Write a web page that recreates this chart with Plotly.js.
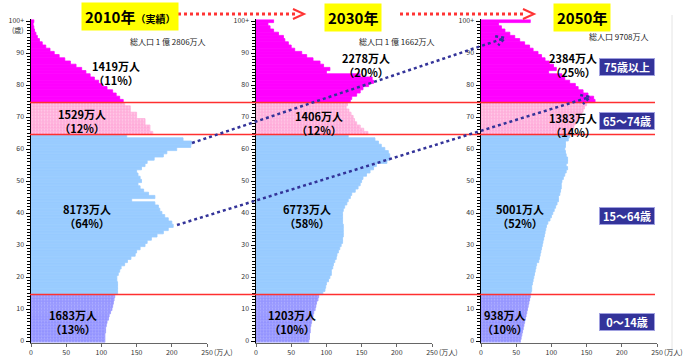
<!DOCTYPE html>
<html><head><meta charset="utf-8">
<script src="https://cdn.plot.ly/plotly-3.0.1.min.js"></script>
<style>html,body{margin:0;padding:0;background:#fff;}#chart{width:683px;height:356px;}</style>
</head><body><div id="chart"></div>
<script>
// ---------------- data ----------------
const ages = [0,1,2,3,4,5,6,7,8,9,10,11,12,13,14,15,16,17,18,19,20,21,22,23,24,25,26,27,28,29,30,31,32,33,34,35,36,37,38,39,40,41,42,43,44,45,46,47,48,49,50,51,52,53,54,55,56,57,58,59,60,61,62,63,64,65,66,67,68,69,70,71,72,73,74,75,76,77,78,79,80,81,82,83,84,85,86,87,88,89,90,91,92,93,94,95,96,97,98,99,100];

// population by single age (万人)
const pop2010 = [105,105,105,106,106,107,108,110,111,113,115,116,117,118,119,
  123,123,123,123,122, 122,124,126,128,133, 137,142,148,150,155, 162,165,171,179,188,
  195,202,200,195,190, 186,183,181,176,143, 176,167,160,155,152, 157,155,152,150,157,
  162,165,175,188,193, 207,227,228,216,136,
  173,169,169,162,162,150,150,141,141,133,
  131,126,121,116,108,101,96,90,84,78,72,64,56,48,40,33,27,21,16,12,9,7,5,4,3,4];
const pop2030 = [75,76,76,77,77,78,79,80,81,82,84,85,86,88,89,
  95,98,99,100,103, 105,107,107,109,110, 112,114,115,117,119, 121,123,123,124,124,
  124,124,123,123,123, 123,124,126,129,131, 134,136,141,145,148, 150,152,157,162,167,
  171,186,190,190,188, 183,178,174,169,131,
  159,153,148,143,140,138,135,132,128,130,
  134,136,143,148,152,160,167,165,148,100,105,96,91,81,72,65,55,50,46,41,39,32,25,20,17,25];
const pop2050 = [56,57,58,59,60,61,62,63,64,65,66,67,68,69,70,
  71,72,72,73,74, 75,76,77,78,79, 82,83,84,85,86, 87,88,89,90,91,
  92,93,95,98,100, 102,104,106,108,110, 110,112,113,114,114, 115,117,119,121,123,
  121,123,123,121,120, 119,120,120,124,126,
  128,130,132,134,137,140,143,145,147,150,
  162,160,152,145,138,134,126,119,115,96,107,103,97,91,86,81,74,69,62,55,48,41,34,29,25,70];

const years = ['2010年','2030年','2050年'];
const yearNotes = ['（実績）','',''];
const totalPop = ['総人口 1 億 2806万人','総人口 1 億 1662万人','総人口 9708万人'];
const groupNames = ['0〜14歳','15〜64歳','65〜74歳','75歳以上'];
const groupLo = [0,15,65,75];
const groupHi = [14,64,74,100];
const groupTotals = [[1683,8173,1529,1419],[1203,6773,1406,2278],[938,5001,1383,2384]];
const groupShares = [[13,64,12,11],[10,58,12,20],[10,52,14,25]];
const yTickVals = [0,10,20,30,40,50,60,70,80,90,100];
const yTickText = ['0','10','20','30','40','50','60','70','80','90','100+'];
const xTickVals = [0,50,100,150,200,250];
const xUnit = '(万人)';
const yUnit = '(歳)';

// ---------------- styling ----------------
const W = 683, H = 356;
const px = x => x / W, py = y => 1 - y / H;
const JP = '"Noto Sans CJK JP", "Noto Sans", sans-serif';
const groupColors = ['#9A9AFF','#99CCFF','#FFB0DC','#FF00FF'];
const groupPatterns = [
  {shape: '.', fgcolor: '#B4B4FF', bgcolor: '#9090FF', size: 3, solidity: 0.35},
  null,
  {shape: '+', fgcolor: '#FFE2F2', bgcolor: '#FFA8D8', size: 3, solidity: 0.25},
  null
];
const series = [pop2010, pop2030, pop2050];
const xDom = [[31,207],[256,432],[481,657]];
const yDom = [1 - 342.6 / H, 1 - 19.4 / H];

const traces = [];
const layout = {
  width: W, height: H, margin: {l:0, r:0, t:0, b:0},
  paper_bgcolor: '#fff', plot_bgcolor: 'rgba(0,0,0,0)',
  showlegend: false, barmode: 'overlay',
  font: {family: JP, size: 7, color: '#333'},
  shapes: [], annotations: []
};
function note(x, y, text, font, extra) {
  layout.annotations.push(Object.assign({xref: 'paper', yref: 'paper', x: px(x), y: py(y),
    xanchor: 'center', yanchor: 'middle', text: text, showarrow: false, font: font}, extra || {}));
}

series.forEach((pop, p) => {
  const sfx = p === 0 ? '' : String(p + 1);
  groupLo.forEach((lo, g) => {
    const ys = [], xs = [];
    ages.forEach((a, i) => { if (a >= lo && a <= groupHi[g]) { ys.push(a); xs.push(pop[i]); } });
    const marker = {color: groupColors[g], line: {width: 0.8, color: groupColors[g]}};
    if (groupPatterns[g]) marker.pattern = groupPatterns[g];
    traces.push({
      type: 'bar', orientation: 'h', x: xs, y: ys, width: 1,
      xaxis: 'x' + sfx, yaxis: 'y' + sfx, marker: marker, hoverinfo: 'x+y'
    });
  });
  layout['xaxis' + sfx] = {
    domain: [px(xDom[p][0]), px(xDom[p][1])], range: [0, 250], anchor: 'y' + sfx,
    tickvals: xTickVals, ticks: 'outside', ticklen: 3, tickcolor: '#666',
    showline: true, linecolor: '#666', linewidth: 1, showgrid: false, zeroline: false,
    tickfont: {size: 7, color: '#333', family: JP}, automargin: false, fixedrange: true
  };
  layout['yaxis' + sfx] = {
    domain: yDom, range: [-0.5, 100.5], anchor: 'x' + sfx,
    tickvals: yTickVals, ticktext: yTickText, ticks: 'outside', ticklen: 4, tickcolor: '#000',
    minor: {dtick: 1, ticks: 'outside', ticklen: 2.5, tickcolor: '#000', tickwidth: 1},
    showline: true, linecolor: '#000', linewidth: 1.5, showgrid: false, zeroline: false,
    tickfont: {size: 7, color: '#333', family: JP}, automargin: false, fixedrange: true
  };
  // unit label on x axis
  note(xDom[p][1] + 5, 352, xUnit, {size: 7, color: '#333', family: JP}, {xanchor: 'left'});
  // total population
  const totPos = [[168, 41.5], [397, 41.5], [619, 36.5]][p];
  note(totPos[0], totPos[1], totalPop[p], {size: 8, color: '#222', family: JP});
  // year boxes
  const yrPos = [[130, 16.5], [353, 17.5], [582, 17.5]][p];
  const yrText = '<b>' + years[p] + '</b>' + (yearNotes[p] ? '<span style="font-size:10px"><b>' + yearNotes[p] + '</b></span>' : '');
  note(yrPos[0], yrPos[1], yrText, {size: 15, color: '#000', family: JP}, {bgcolor: '#FFFF00', borderpad: 3});
  // group labels (two lines)
  const labPos = [
    [[73,322],[87,215.5],[82,121],[116,73]],
    [[292,322],[307,215.5],[319,123],[366,65.5]],
    [[505,322],[520,215.5],[573,124.5],[573,65.5]]
  ][p];
  groupLo.forEach((lo, g) => {
    note(labPos[g][0], labPos[g][1],
      '<b>' + groupTotals[p][g] + '万人</b><br><b>（' + groupShares[p][g] + '%）</b>',
      {size: 11, color: '#000', family: JP});
  });
});

// age unit
note(18, 30, yUnit, {size: 7, color: '#333', family: JP});

// group legend boxes on the right
const legY = [321.5, 215.5, 121.5, 66.5];
groupNames.forEach((n, g) => {
  note(626.5, legY[g], '<b>' + n + '</b>', {size: 11, color: '#fff', family: JP},
    {width: 52, height: 14, bgcolor: '#33339A', bordercolor: '#A0A0E0', borderwidth: 1, borderpad: 1});
});

// red age-group boundaries
[14.5, 64.5, 74.5].forEach(b => {
  layout.shapes.push({type: 'line', xref: 'paper', yref: 'y', x0: px(30), x1: px(655), y0: b, y1: b,
    line: {color: '#FF3030', width: 1.5}, layer: 'above'});
});

// red dotted arrows between years
function chevron(x, y, color, w) {
  return {type: 'path', xref: 'paper', yref: 'paper', layer: 'above',
    path: `M ${px(x - 11)} ${py(y - 5)} L ${px(x)} ${py(y)} L ${px(x - 11)} ${py(y + 5)}`,
    line: {color: color, width: w}};
}
[[178, 296], [400, 526]].forEach(s => {
  layout.shapes.push({type: 'line', xref: 'paper', yref: 'paper', x0: px(s[0]), x1: px(s[1]),
    y0: py(14), y1: py(14), line: {color: '#FF3333', width: 3, dash: 'dot'}});
  layout.shapes.push(chevron(s[1] + 8, 14, '#FF3333', 2));
});

// blue dotted arrows (baby-boom cohorts)
function dottedArrow(x0, y0, x1, y1) {
  layout.shapes.push({type: 'line', xref: 'paper', yref: 'paper', layer: 'above',
    x0: px(x0), y0: py(y0), x1: px(x1), y1: py(y1),
    line: {color: '#333399', width: 2.5, dash: 'dot'}});
  const dx = x1 - x0, dy = y1 - y0, L = Math.hypot(dx, dy), ux = dx / L, uy = dy / L;
  const a = 10, s = 0.5;
  const p1 = [x1 - a * (ux * Math.cos(s) - uy * Math.sin(s)), y1 - a * (uy * Math.cos(s) + ux * Math.sin(s))];
  const p2 = [x1 - a * (ux * Math.cos(-s) - uy * Math.sin(-s)), y1 - a * (uy * Math.cos(-s) + ux * Math.sin(-s))];
  layout.shapes.push({type: 'path', xref: 'paper', yref: 'paper', layer: 'above',
    path: `M ${px(p1[0])} ${py(p1[1])} L ${px(x1)} ${py(y1)} L ${px(p2[0])} ${py(p2[1])}`,
    line: {color: '#333399', width: 2.5, dash: 'dot'}});
}
dottedArrow(192, 143, 505, 38);
dottedArrow(177, 225, 590, 97);

// faint frame line at right
layout.shapes.push({type: 'line', xref: 'paper', yref: 'paper', x0: px(672), x1: px(672), y0: py(15), y1: py(356),
  line: {color: '#e4e4e4', width: 1}});

Plotly.newPlot('chart', traces, layout, {staticPlot: true});
</script></body></html>
